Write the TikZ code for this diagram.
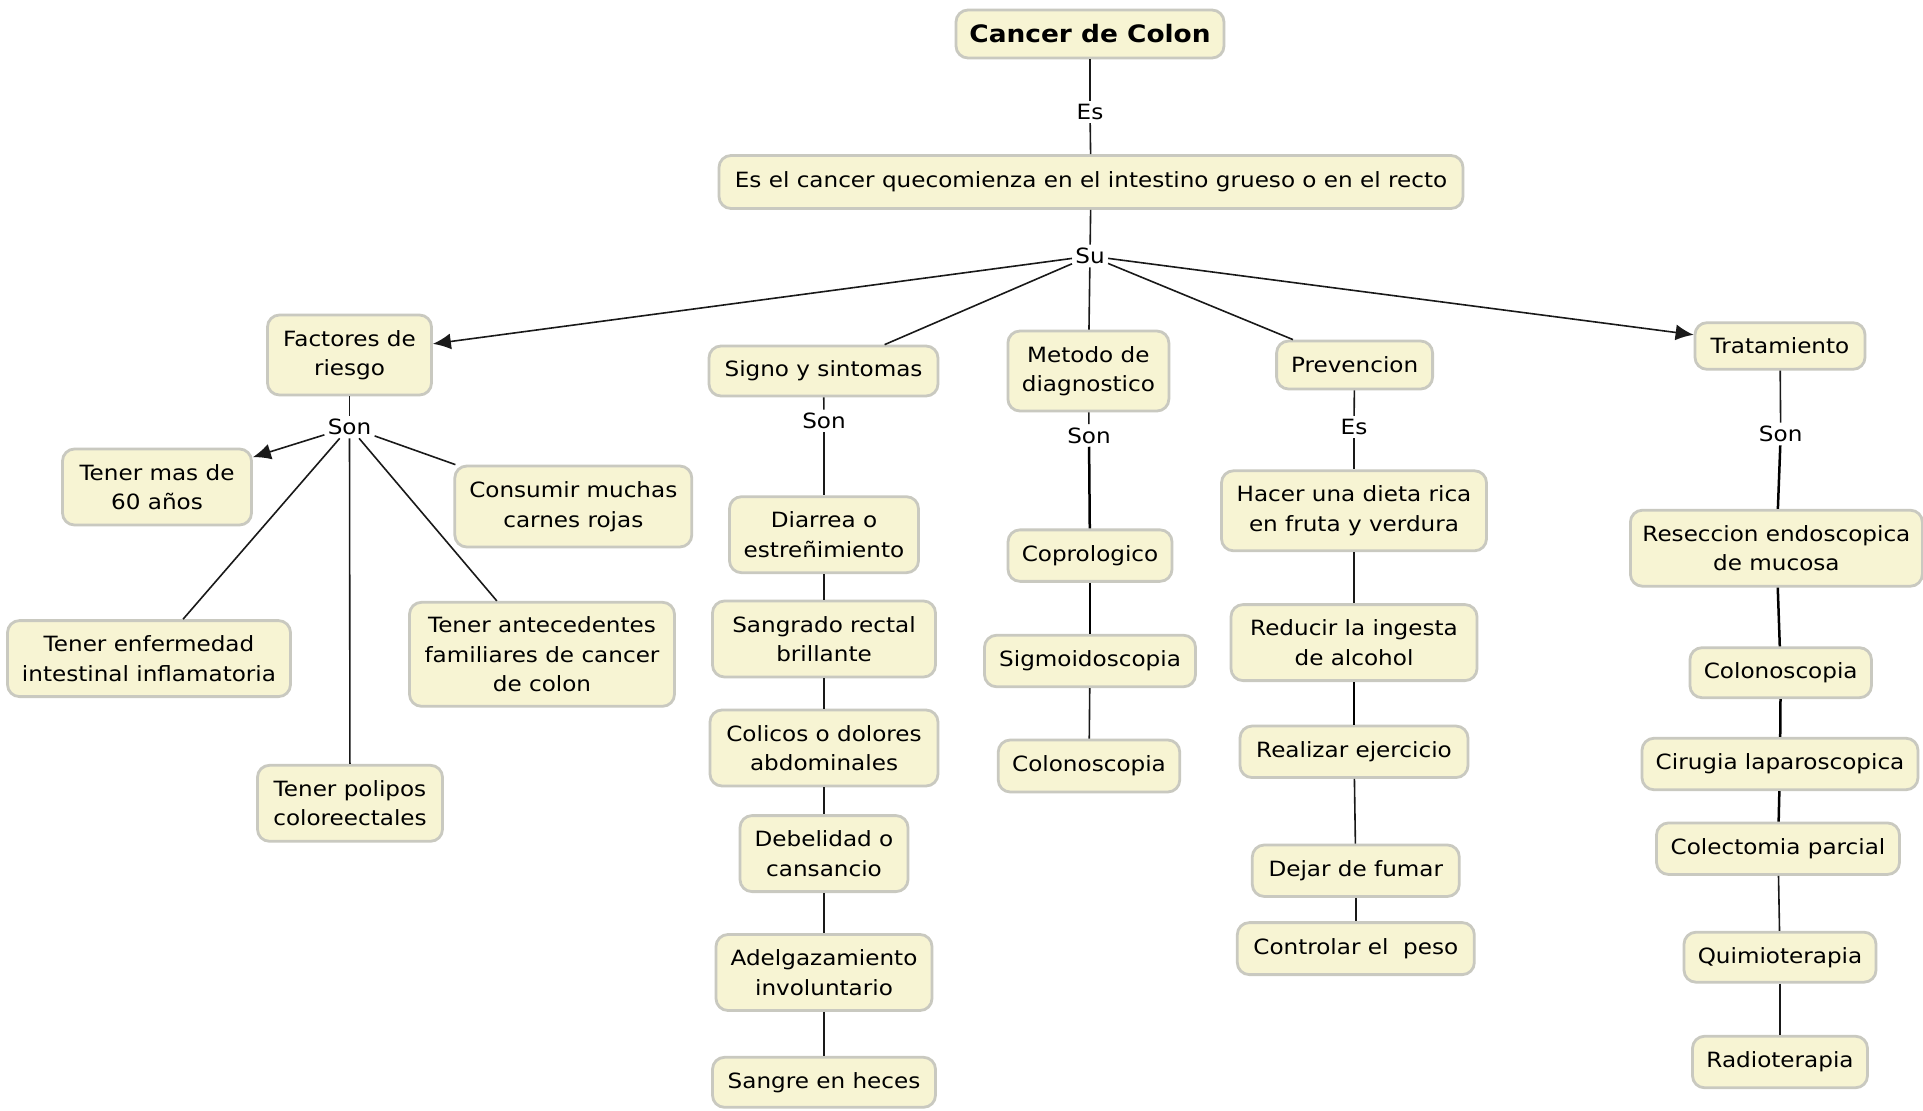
\documentclass[tikz,border=0pt]{standalone}
\usepackage{fontspec}
\setmainfont[FakeStretch=1.1]{DejaVu Sans}
\usetikzlibrary{arrows.meta}
\definecolor{boxfill}{HTML}{F7F4D3}
\definecolor{boxline}{HTML}{C9C9C0}
\begin{document}
\begin{tikzpicture}[x=0.5pt,y=-0.5pt,
  concept/.style={draw=boxline, line width=1.4pt, fill=boxfill, rounded corners=6pt,
    align=center, font=\fontsize{10.5}{14.7}\selectfont, inner sep=0pt},
  lbl/.style={font=\fontsize{10.5}{12}\selectfont, inner sep=1.5pt},
  link/.style={line width=0.8pt, draw=black!90},
  tlink/.style={line width=1.25pt, draw=black},
  arr/.style={link, -{Latex[length=9pt,width=8pt]}}]
\useasboundingbox[fill=white] (0,0) rectangle (1923,1110);

% top
\node[concept, font=\fontsize{12}{14}\selectfont\bfseries, minimum width=134pt, minimum height=24pt] (root) at (1090,34) {Cancer de Colon};
\node[lbl] (es0) at (1090,112) {Es};
\node[concept, minimum width=372pt, minimum height=26.5pt] (def) at (1091,182) {Es el cancer quecomienza en el intestino grueso o en el recto};
\node[lbl] (su) at (1090,256) {Su};

% level 2
\node[concept, minimum width=82pt, minimum height=40pt] (fac) at (349.5,355) {Factores de\\riesgo};
\node[concept, minimum width=114.5pt, minimum height=25pt] (sig) at (823.5,371) {Signo y sintomas};
\node[concept, minimum width=80.5pt, minimum height=40pt] (met) at (1088.4,371) {Metodo de\\diagnostico};
\node[concept, minimum width=78pt, minimum height=24pt] (pre) at (1354.6,365) {Prevencion};
\node[concept, minimum width=85pt, minimum height=23.3pt] (tra) at (1780,346) {Tratamiento};

% factores
\node[lbl] (sonf) at (349.5,427) {Son};
\node[concept, minimum width=94.5pt, minimum height=38pt] (f1) at (157,487) {Tener mas de\\60 años};
\node[concept, minimum width=118.5pt, minimum height=40.5pt] (f2) at (573.3,506.5) {Consumir muchas\\carnes rojas};
\node[concept, minimum width=141.5pt, minimum height=38pt] (f3) at (149,658.6) {Tener enfermedad\\intestinal inflamatoria};
\node[concept, minimum width=132.5pt, minimum height=52pt] (f4) at (542,654.3) {Tener antecedentes\\familiares de cancer\\de colon};
\node[concept, minimum width=92.5pt, minimum height=38pt] (f5) at (350,803.3) {Tener polipos\\coloreectales};

% signos
\node[lbl] (sons) at (824,421) {Son};
\node[concept, minimum width=94.5pt, minimum height=38pt] (s1) at (824,534.7) {Diarrea o\\estreñimiento};
\node[concept, minimum width=111.5pt, minimum height=38pt] (s2) at (824,639) {Sangrado rectal\\brillante};
\node[concept, minimum width=114pt, minimum height=38pt] (s3) at (824,748) {Colicos o dolores\\abdominales};
\node[concept, minimum width=84pt, minimum height=38pt] (s4) at (824,853.6) {Debelidad o\\cansancio};
\node[concept, minimum width=108pt, minimum height=38pt] (s5) at (824,972.5) {Adelgazamiento\\involuntario};
\node[concept, minimum width=111.5pt, minimum height=25pt] (s6) at (824,1082.3) {Sangre en heces};

% metodo
\node[lbl] (sonm) at (1089,435.4) {Son};
\node[concept, minimum width=82pt, minimum height=25.75pt] (m1) at (1090,555.6) {Coprologico};
\node[concept, minimum width=105.5pt, minimum height=25.75pt] (m2) at (1090,661) {Sigmoidoscopia};
\node[concept, minimum width=90.75pt, minimum height=26pt] (m3) at (1089,766) {Colonoscopia};

% prevencion
\node[lbl] (esp) at (1354,427) {Es};
\node[concept, minimum width=132.5pt, minimum height=40pt] (p1) at (1354,510.8) {Hacer una dieta rica\\en fruta y verdura};
\node[concept, minimum width=123pt, minimum height=38pt] (p2) at (1354,642.6) {Reducir la ingesta\\de alcohol};
\node[concept, minimum width=114pt, minimum height=25.75pt] (p3) at (1354,751.8) {Realizar ejercicio};
\node[concept, minimum width=103.5pt, minimum height=25.75pt] (p4) at (1355.8,870.7) {Dejar de fumar};
\node[concept, minimum width=118.5pt, minimum height=26pt] (p5) at (1355.8,948.6) {Controlar el~ peso};

% tratamiento
\node[lbl] (sont) at (1780.7,434) {Son};
\node[concept, minimum width=146pt, minimum height=38pt] (t1) at (1776.4,548.2) {Reseccion endoscopica\\de mucosa};
\node[concept, minimum width=90.75pt, minimum height=25pt] (t2) at (1780.7,672.7) {Colonoscopia};
\node[concept, minimum width=138pt, minimum height=25.75pt] (t3) at (1780,764) {Cirugia laparoscopica};
\node[concept, minimum width=121.5pt, minimum height=25.75pt] (t4) at (1778,848.7) {Colectomia parcial};
\node[concept, minimum width=96pt, minimum height=25pt] (t5) at (1780,957.2) {Quimioterapia};
\node[concept, minimum width=87.5pt, minimum height=25.75pt] (t6) at (1780,1062) {Radioterapia};

% connectors
\draw[link] (root) -- (es0);
\draw[link] (es0) -- (def);
\draw[link] (def) -- (su);
\draw[arr] (su) -- (fac);
\draw[link] (su) -- (sig);
\draw[link] (su) -- (met);
\draw[link] (su) -- (pre);
\draw[arr] (su) -- (tra);

\draw[link] (fac) -- (sonf);
\draw[arr] (sonf) -- (f1);
\draw[link] (sonf) -- (f2);
\draw[link] (sonf) -- (f3);
\draw[link] (sonf) -- (f4);
\draw[link] (sonf) -- (f5);

\draw[link] (sig) -- (sons);
\draw[link] (sons) -- (s1);
\draw[link] (s1) -- (s2);
\draw[link] (s2) -- (s3);
\draw[link] (s3) -- (s4);
\draw[link] (s4) -- (s5);
\draw[link] (s5) -- (s6);

\draw[link] (met) -- (sonm);
\draw[tlink] (sonm) -- (m1);
\draw[tlink] (m1) -- (m2);
\draw[link] (m2) -- (m3);

\draw[link] (pre) -- (esp);
\draw[link] (esp) -- (p1);
\draw[link] (p1) -- (p2);
\draw[tlink] (p2) -- (p3);
\draw[link] (p3) -- (p4);
\draw[link] (p4) -- (p5);

\draw[link] (tra) -- (sont);
\draw[tlink] (sont) -- (t1);
\draw[tlink] (t1) -- (t2);
\draw[tlink] (t2) -- (t3);
\draw[tlink] (t3) -- (t4);
\draw[link] (t4) -- (t5);
\draw[link] (t5) -- (t6);
\end{tikzpicture}
\end{document}
